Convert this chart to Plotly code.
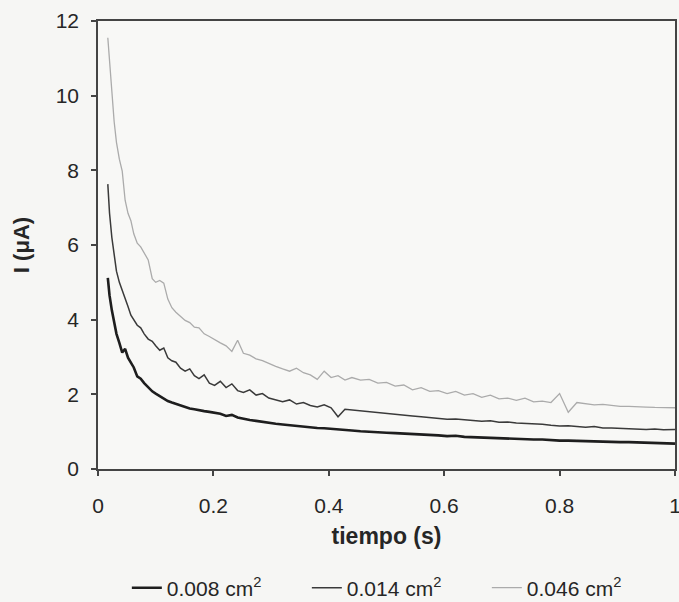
import plotly.graph_objects as go

time_s = [
    0.017, 0.020, 0.024, 0.028, 0.032, 0.037, 0.042, 0.047, 0.052, 0.057,
    0.062, 0.068, 0.074, 0.080, 0.087, 0.094, 0.100, 0.107, 0.114, 0.121,
    0.128, 0.135, 0.143, 0.151, 0.159, 0.167, 0.175, 0.184, 0.193, 0.202,
    0.212, 0.222, 0.232, 0.242, 0.252, 0.263, 0.274, 0.285, 0.296, 0.308,
    0.320, 0.332, 0.344, 0.356, 0.368, 0.380, 0.392, 0.404, 0.416, 0.428,
    0.440, 0.455, 0.470, 0.485, 0.500, 0.515, 0.530, 0.545, 0.560, 0.575,
    0.590, 0.605, 0.620, 0.635, 0.650, 0.665, 0.680, 0.695, 0.710, 0.725,
    0.740, 0.755, 0.770, 0.785, 0.800, 0.815, 0.830, 0.845, 0.860, 0.875,
    0.890, 0.905, 0.920, 0.935, 0.950, 0.965, 0.980, 1.000,
]

i_008 = [
    5.12, 4.65, 4.25, 3.95, 3.62, 3.38, 3.12, 3.22, 2.98, 2.85,
    2.72, 2.48, 2.42, 2.30, 2.18, 2.08, 2.02, 1.95, 1.87, 1.82,
    1.78, 1.74, 1.70, 1.66, 1.62, 1.60, 1.57, 1.55, 1.53, 1.50,
    1.48, 1.42, 1.45, 1.38, 1.34, 1.31, 1.29, 1.26, 1.25, 1.21,
    1.19, 1.17, 1.15, 1.13, 1.12, 1.10, 1.09, 1.07, 1.05, 1.04,
    1.03, 1.01, 0.99, 0.98, 0.97, 0.96, 0.95, 0.93, 0.92, 0.91,
    0.90, 0.88, 0.89, 0.86, 0.85, 0.84, 0.84, 0.83, 0.82, 0.81,
    0.80, 0.79, 0.79, 0.77, 0.76, 0.76, 0.75, 0.74, 0.74, 0.73,
    0.73, 0.72, 0.72, 0.71, 0.70, 0.70, 0.69, 0.68,
]

i_014 = [
    7.63, 6.85, 6.20, 5.75, 5.30, 5.00, 4.80, 4.55, 4.35, 4.12,
    3.98, 3.85, 3.78, 3.62, 3.48, 3.42, 3.30, 3.18, 3.24, 2.98,
    2.90, 2.86, 2.70, 2.62, 2.68, 2.50, 2.42, 2.52, 2.30, 2.24,
    2.35, 2.18, 2.28, 2.10, 2.05, 2.12, 1.98, 2.02, 1.90, 1.84,
    1.80, 1.85, 1.74, 1.78, 1.70, 1.66, 1.72, 1.64, 1.40, 1.60,
    1.58, 1.55, 1.54, 1.50, 1.48, 1.46, 1.44, 1.42, 1.40, 1.37,
    1.36, 1.33, 1.34, 1.31, 1.30, 1.28, 1.29, 1.25, 1.26, 1.23,
    1.22, 1.20, 1.20, 1.17, 1.15, 1.16, 1.14, 1.12, 1.14, 1.10,
    1.10, 1.09, 1.08, 1.08, 1.06, 1.07, 1.05, 1.06,
]

i_046 = [
    11.55, 10.90, 9.90, 9.30, 8.75, 8.30, 7.98, 7.20, 6.85, 6.65,
    6.30, 6.05, 5.95, 5.80, 5.60, 5.10, 5.00, 5.05, 4.98, 4.55,
    4.32, 4.20, 4.10, 3.98, 3.92, 3.80, 3.78, 3.62, 3.55, 3.48,
    3.38, 3.30, 3.15, 3.45, 3.10, 3.05, 2.95, 2.90, 2.82, 2.75,
    2.68, 2.62, 2.70, 2.58, 2.52, 2.40, 2.62, 2.45, 2.50, 2.38,
    2.45, 2.38, 2.40, 2.30, 2.32, 2.22, 2.25, 2.12, 2.18, 2.08,
    2.10, 2.02, 2.08, 1.98, 2.02, 1.92, 1.98, 1.88, 1.90, 1.84,
    1.90, 1.80, 1.82, 1.78, 2.02, 1.52, 1.78, 1.75, 1.72, 1.73,
    1.70, 1.68, 1.68, 1.66, 1.66, 1.65, 1.64, 1.64,
]

series_names = ["0.008 cm<sup>2</sup>", "0.014 cm<sup>2</sup>", "0.046 cm<sup>2</sup>"]
series_values = [i_008, i_014, i_046]
series_colors = ["#1e1e1e", "#3a3a3a", "#ababab"]
series_widths = [2.6, 1.5, 1.3]

x_ticks = [0, 0.2, 0.4, 0.6, 0.8, 1]
x_tick_text = ["0", "0.2", "0.4", "0.6", "0.8", "1"]
y_ticks = [0, 2, 4, 6, 8, 10, 12]

fig = go.Figure()
for name, vals, col, w in zip(series_names, series_values, series_colors, series_widths):
    fig.add_trace(go.Scatter(x=time_s, y=vals, mode="lines", name=name,
                             line=dict(color=col, width=w)))

font_family = "Liberation Sans, Arial, sans-serif"
fig.update_layout(
    width=679, height=602,
    margin=dict(l=98, r=4, t=21, b=133, autoexpand=False),
    paper_bgcolor="#f6f6f4",
    plot_bgcolor="#f8f8f6",
    font=dict(family=font_family, size=21, color="#262626"),
    showlegend=True,
    legend=dict(orientation="h", x=0.05, xanchor="left", y=-0.22, yanchor="top",
                font=dict(size=21, color="#262626"), bgcolor="rgba(0,0,0,0)",
                itemwidth=30, entrywidth=135, entrywidthmode="pixels"),
)
fig.update_xaxes(
    range=[0, 1], tickvals=x_ticks, ticktext=x_tick_text,
    ticks="outside", ticklen=5, tickcolor="#444", tickwidth=1.5,
    ticklabelstandoff=12, ticklabeloverflow="allow",
    showline=True, linecolor="#444", linewidth=1.5, mirror=True,
    showgrid=False, zeroline=False,
    title=dict(text="<b>tiempo (s)</b>", font=dict(size=23), standoff=12),
)
fig.update_yaxes(
    range=[0, 12], tickvals=y_ticks,
    ticks="outside", ticklen=5, tickcolor="#444", tickwidth=1.5,
    ticklabelstandoff=8,
    showline=True, linecolor="#444", linewidth=1.5, mirror=True,
    showgrid=False, zeroline=False,
    title=dict(text="<b>I (μA)</b>", font=dict(size=22), standoff=20),
)

fig.write_html("out.html")
